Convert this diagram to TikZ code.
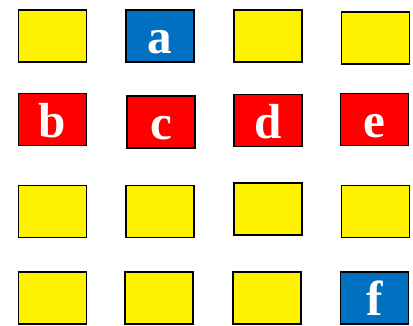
\documentclass[tikz,border=0pt]{standalone}
\usepackage{fontspec}
\setmainfont{Liberation Serif}
\usetikzlibrary{positioning}
\definecolor{cellblue}{HTML}{0070C0}

\begin{document}
\begin{tikzpicture}[x=0.02cm,y=-0.02cm, every node/.style={font=\fontsize{28}{28}\selectfont\bfseries, text=white}]
    \useasboundingbox (0,0) rectangle (413,325);
    \tikzset{cell/.style={draw, line width=1pt, minimum width=1.36cm, text height=0.88cm, text depth=0.16cm, inner sep=0pt}}
    \foreach \n/\x/\y/\c/\t in {r1c1/52.5/36/yellow/{}, r1c2/160/36/cellblue/a, r1c3/268/36/yellow/{}, r1c4/375.5/38/yellow/{},
        r2c1/52.5/119.5/red/b, r2c2/161/122/red/c, r2c3/268/120.5/red/d, r2c4/374.5/119.5/red/e,
        r3c1/52.5/211.5/yellow/{}, r3c2/160/211.5/yellow/{}, r3c3/268/209/yellow/{}, r3c4/375.5/211.5/yellow/{},
        r4c1/52.5/298/yellow/{}, r4c2/159/298/yellow/{}, r4c3/267/298/yellow/{}, r4c4/374.5/298/cellblue/f}{
        \node[cell, fill=\c] (\n) at (\x,\y) {\t};
    }
\end{tikzpicture}
\end{document}
